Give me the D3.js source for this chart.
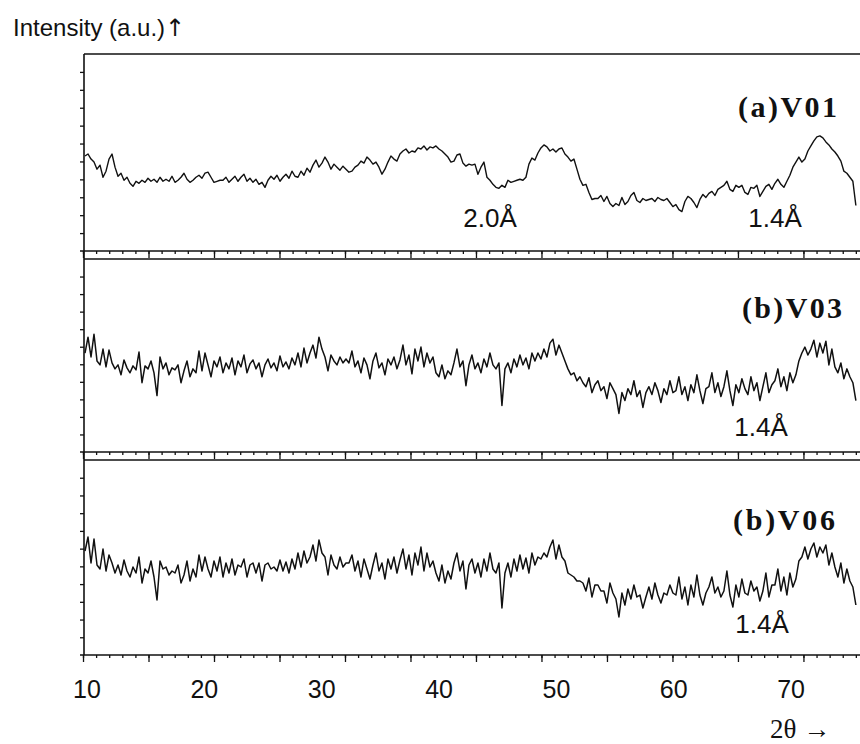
<!DOCTYPE html>
<html><head><meta charset="utf-8">
<script src="https://cdn.jsdelivr.net/npm/d3@7"></script>
<style>body{margin:0;background:#fff}svg{display:block}</style>
</head><body>
<svg id="chart" width="860" height="744"></svg>
<script>
// ---- data ----
const xTickLabels = [10, 20, 30, 40, 50, 60, 70];
const panelNames = ["(a)V01", "(b)V03", "(b)V06"];
const twoThetaStart = 9.83;    // first sample (deg 2θ)
const twoThetaStep = 0.2556;   // step between samples (deg)
const scaleTickStart = 9.66;   // instrument scale ticks
const scaleTickStep = 1.1162;

const v01 = [94,96,91,88,81,85,73,79,91,
96,83,74,77,70,73,67,64,69,67,70,68,72,69,71,68,73,69,71,69,74,68,70,73,77,71,68,70,73,75,72,77,78,73,68,69,70,70,73,68,71,74,69,73,76,69,72,68,71,66,68,63,70,74,71,75,69,73,76,72,79,74,73,79,75,82,78,85,90,83,87,93,88,81,86,83,80,84,81,78,79,83,85,89,87,93,90,86,88,83,76,81,88,94,91,89,96,99,101,97,99,98,102,101,104,100,103,102,104,101,99,96,93,88,89,95,96,87,84,86,85,86,76,83,88,73,70,66,63,62,65,63,70,68,69,70,71,70,73,86,92,90,97,102,105,103,99,101,98,101,102,96,93,89,91,81,71,65,66,58,51,52,52,55,49,54,47,44,47,45,53,46,49,55,58,50,48,52,50,51,52,49,53,51,50,52,48,44,46,41,39,49,54,52,48,43,51,56,53,57,59,55,61,63,65,69,61,59,65,63,65,58,56,63,62,65,54,59,64,66,61,67,71,66,63,69,75,83,88,93,88,91,99,104,109,113,114,112,108,105,101,98,94,89,79,77,73,69,45];

const v03 = [100,116,96,119,92,88,
104,86,103,90,
84,88,78,93,85,80,87,83,
101,70,87,84,92,80,
57,
96,84,90,78,85,83,88,70,82,92,76,84,80,
102,82,100,88,76,92,86,96,80,90,84,95,78,
92,86,98,80,89,93,84,90,76,88,94,85,90,82,97,86,91,84,95,88,100,86,
105,90,100,108,95,116,104,
96,82,98,92,88,96,90,94,
90,102,86,92,80,95,88,74,92,100,85,90,78,94,88,96,84,
93,108,88,98,79,104,92,106,86,100,90,96,
80,76,88,74,82,78,
90,104,86,92,67,88,98,84,90,80,94,86,100,88,84,90,
47,
84,90,80,94,86,98,88,95,84,100,92,
100,94,104,96,110,114,98,108,100,92,
84,78,80,72,76,
70,66,75,60,68,72,62,66,54,70,64,58,
39,
60,52,64,58,72,56,62,45,60,66,58,70,62,50,64,58,72,60,
62,76,58,66,52,68,60,78,62,49,64,
66,80,60,70,56,66,82,62,47,68,60,74,64,58,76,62,70,52,66,80,60,68,
72,84,66,76,62,80,70,78,
92,100,106,98,
104,113,96,110,100,112,88,104,
86,80,90,74,84,76,70,
52];

const v06 = [104,118,92,116,90,86,
106,84,100,92,
82,90,80,95,84,78,88,82,
98,72,86,82,94,78,
55,
94,86,88,80,84,82,90,72,80,94,74,86,78,
100,84,98,86,78,94,84,98,78,92,82,96,80,
90,88,96,78,90,92,82,92,74,90,92,86,88,84,95,84,93,82,96,86,102,88,
104,92,98,110,94,115,102,
98,80,100,90,86,98,88,92,
92,100,84,94,78,96,86,76,90,102,84,92,76,96,86,98,82,
95,106,86,100,80,102,90,108,84,102,88,94,
82,74,90,72,84,76,
92,102,84,94,66,90,96,82,92,78,96,84,102,86,82,92,
47,
82,92,78,96,84,100,86,97,82,102,90,
98,96,102,98,108,115,96,110,98,94,
82,80,78,74,74,
72,64,77,58,70,70,64,64,52,72,62,56,
38,
62,50,66,56,70,58,60,47,58,68,56,72,60,52,62,60,70,62,
60,78,56,68,50,70,58,80,60,50,62,
68,78,62,68,58,64,84,60,48,70,58,76,62,60,74,64,68,54,64,82,58,70,
70,86,64,78,60,82,68,76,
94,98,108,96,
106,112,98,108,102,110,90,102,
88,78,92,72,86,74,68,
50];

const seriesList = [v01, v03, v06];
const peakNotes = [["2.0Å", "1.4Å"], ["1.4Å"], ["1.4Å"]];

// ---- layout ----
const svg = d3.select("#chart");
const panels = [{top: 54, bottom: 251}, {top: 259, bottom: 452}, {top: 460, bottom: 655}];
const x = d3.scaleLinear().domain([9.744, 75.70]).range([84, 858]);
const yDomain = [0, 195];
const ink = "#111";

const minorTicks = d3.range(0, 60).map(i => scaleTickStart + i * scaleTickStep).filter(v => v <= 75.7);
const majorTicks = minorTicks.filter((v, i) => i % 5 === 0);
const yTicks = d3.range(1, 11).map(i => i * yDomain[1] / 11);

const line = d3.line().x(d => x(d[0])).y(d => d[1]);

svg.append("line").attr("x1", x.range()[0]).attr("x2", x.range()[0])
  .attr("y1", panels[0].top).attr("y2", panels[2].bottom)
  .attr("stroke", ink).attr("stroke-width", 1.6);

const noteLayout = [
  [{x: 490, y: 227}, {x: 775, y: 227}],
  [{x: 761, y: 436}],
  [{x: 762, y: 633}]
];
const nameLayout = [{x: 738, y: 117, w: 99}, {x: 742, y: 318, w: 100}, {x: 733, y: 530, w: 102}];

panels.forEach((p, k) => {
  const y = d3.scaleLinear().domain(yDomain).range([p.bottom, p.top]);
  const g = svg.append("g");

  g.append("line").attr("x1", x.range()[0]).attr("x2", 860)
    .attr("y1", p.top).attr("y2", p.top).attr("stroke", ink).attr("stroke-width", 1.6);
  g.append("line").attr("x1", x.range()[0] - 4).attr("x2", 860)
    .attr("y1", p.bottom).attr("y2", p.bottom).attr("stroke", ink).attr("stroke-width", 1.6);

  const minorAxis = d3.axisBottom(x).tickValues(minorTicks).tickSize(3).tickFormat("");
  const majorAxis = d3.axisBottom(x).tickValues(majorTicks).tickSize(7).tickFormat("");
  [minorAxis, majorAxis].forEach(ax => {
    const a = g.append("g").attr("transform", `translate(0,${p.bottom})`).call(ax);
    a.select(".domain").remove();
    a.selectAll("line").attr("stroke", ink).attr("stroke-width", 1.3);
  });

  const la = g.append("g").attr("transform", `translate(${x.range()[0]},0)`)
    .call(d3.axisLeft(y).tickValues(yTicks).tickSize(4).tickFormat(""));
  la.select(".domain").remove();
  la.selectAll("line").attr("stroke", ink).attr("stroke-width", 1.3);

  const pts = seriesList[k].map((v, i) => [twoThetaStart + i * twoThetaStep, y(v)]);
  g.append("path").datum(pts).attr("d", line)
    .attr("fill", "none").attr("stroke", ink).attr("stroke-width", k === 0 ? 1.4 : 1.5)
    .attr("stroke-linejoin", "round");

  const nl = nameLayout[k];
  g.append("text").attr("x", nl.x).attr("y", nl.y)
    .attr("textLength", nl.w).attr("lengthAdjust", "spacing")
    .attr("font-family", "'Liberation Serif','Times New Roman',serif")
    .attr("font-weight", "bold").attr("font-size", 30).attr("fill", ink)
    .text(panelNames[k]);

  peakNotes[k].forEach((t, j) => {
    const L = noteLayout[k][j];
    g.append("text").attr("x", L.x).attr("y", L.y).attr("text-anchor", "middle")
      .attr("font-family", "'Liberation Sans',Arial,sans-serif")
      .attr("font-size", 26).attr("fill", ink).text(t);
  });
});

svg.append("g").selectAll("text").data(xTickLabels).join("text")
  .attr("x", d => x(d)).attr("y", 698).attr("text-anchor", "middle")
  .attr("font-family", "'Liberation Sans',Arial,sans-serif")
  .attr("font-size", 25).attr("fill", ink).text(d => d);

const yt = svg.append("text").attr("x", 13).attr("y", 36)
  .attr("font-family", "'Liberation Sans',Arial,sans-serif")
  .attr("font-size", 24).attr("fill", ink);
yt.append("tspan").text("Intensity (a.u.)");
yt.append("tspan").attr("font-family", "'DejaVu Sans',sans-serif").attr("fill", ink).text("↑");

svg.append("text").attr("x", 770).attr("y", 738)
  .attr("font-family", "'Liberation Serif','Times New Roman',serif")
  .attr("font-size", 27).attr("fill", ink).text("2θ →");
</script>
</body></html>
